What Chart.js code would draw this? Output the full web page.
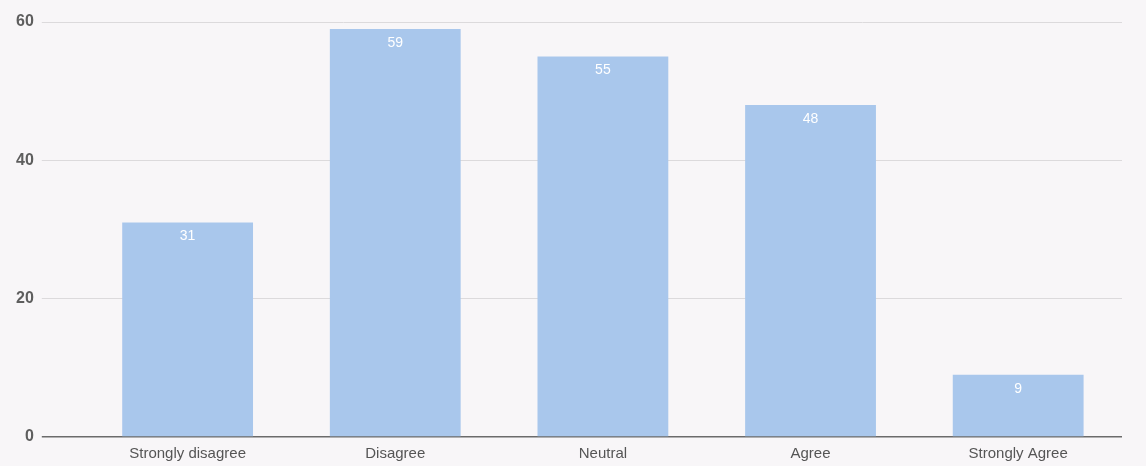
<!DOCTYPE html>
<html>
<head>
<meta charset="utf-8">
<script src="https://cdn.jsdelivr.net/npm/chart.js@4"></script>
<style>
  html, body { margin: 0; padding: 0; background: #f8f6f8; }
  #wrap { width: 1146px; height: 466px; }
</style>
</head>
<body>
<div id="wrap"><canvas id="responses"></canvas></div>
<script>
const categories = ['Strongly disagree', 'Disagree', 'Neutral', 'Agree', 'Strongly Agree'];
const counts = [31, 59, 55, 48, 9];
const yTicks = [0, 20, 40, 60];

// white value written inside the top of each bar
const barValues = {
  id: 'barValues',
  afterDatasetsDraw(chart) {
    const ctx = chart.ctx;
    const meta = chart.getDatasetMeta(0);
    ctx.save();
    ctx.fillStyle = '#ffffff';
    ctx.font = '14px "Liberation Sans", Arial, sans-serif';
    ctx.textAlign = 'center';
    ctx.textBaseline = 'middle';
    meta.data.forEach((bar, i) => {
      ctx.fillText(String(counts[i]), bar.x, bar.y + 14);
    });
    ctx.restore();
  }
};

new Chart(document.getElementById('responses'), {
  type: 'bar',
  data: {
    labels: categories,
    datasets: [{
      data: counts,
      backgroundColor: '#a9c7ec',
      barPercentage: 0.63,
      categoryPercentage: 1
    }]
  },
  options: {
    responsive: true,
    maintainAspectRatio: false,
    animation: false,
    layout: { padding: { top: 22, right: 24, bottom: 3, left: 8 } },
    plugins: { legend: { display: false }, tooltip: { enabled: false } },
    scales: {
      x: {
        grid: { display: false },
        border: { display: false },
        ticks: {
          color: '#555',
          padding: 0,
          font: { family: '"Liberation Sans", Arial, sans-serif', size: 15 }
        }
      },
      y: {
        min: 0,
        max: 60,
        afterBuildTicks(axis) { axis.ticks = yTicks.map(v => ({ value: v })); },
        border: { display: false },
        grid: {
          color: ctx => ctx.tick && ctx.tick.value === 0 ? '#6b6b6b' : '#dcdadc',
          lineWidth: ctx => ctx.tick && ctx.tick.value === 0 ? 1.5 : 1,
          tickLength: 42
        },
        ticks: {
          color: '#5e5e5e',
          padding: 8,
          font: { family: '"Liberation Sans", Arial, sans-serif', size: 16, weight: 'bold' }
        }
      }
    }
  },
  plugins: [barValues]
});
</script>
</body>
</html>
